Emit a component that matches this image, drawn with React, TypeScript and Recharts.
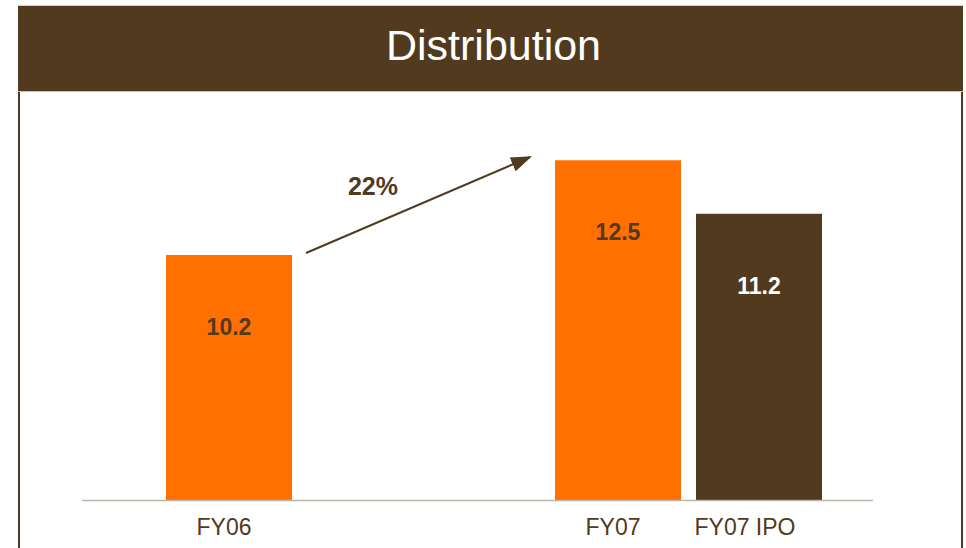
import { BarChart, Bar, XAxis, YAxis, LabelList } from "recharts";

const categories = ["FY06", "FY07"];
const reported = [10.2, 12.5];
const ipo = [null, 11.2];
const ipoLabel = "FY07 IPO";
const growthLabel = "22%";
const yDomain = [4.25, 13.72];

const BROWN = "#523a1e";
const ORANGE = "#ff7000";
const FONT = '"Liberation Sans", Arial, Helvetica, sans-serif';

const data = categories.map((name, i) => ({
  name,
  reported: reported[i],
  ipo: ipo[i],
}));

function box(p: any) {
  const vb = p.viewBox ?? {};
  return {
    x: p.x ?? vb.x,
    y: p.y ?? vb.y,
    width: p.width ?? vb.width,
    height: p.height ?? vb.height,
  };
}

function ValueLabel(p: any) {
  if (p.value == null) return null;
  const { x, y, width } = box(p);
  return (
    <text
      x={x + width / 2}
      y={y + 80}
      textAnchor="middle"
      fill={p.color}
      fontSize={23}
      fontWeight="bold"
      fontFamily={FONT}
    >
      {p.value}
    </text>
  );
}

function CategoryLabel(p: any) {
  if (p.value == null) return null;
  const { x, y, width, height } = box(p);
  return (
    <text
      x={x + width / 2 + (p.dx ?? 0)}
      y={y + height + 35}
      textAnchor="middle"
      fill={BROWN}
      fontSize={23}
      fontFamily={FONT}
    >
      {p.text ?? p.value}
    </text>
  );
}

export default function App() {
  return (
    <div
      style={{
        position: "absolute",
        left: 0,
        top: 0,
        width: 966,
        height: 548,
        background: "#fff",
        overflow: "hidden",
        fontFamily: FONT,
      }}
    >
      {/* slide frame */}
      <div
        style={{
          position: "absolute",
          left: 18,
          top: 5,
          width: 945,
          height: 600,
          borderLeft: `2px solid ${BROWN}`,
          borderRight: `2px solid ${BROWN}`,
          boxSizing: "border-box",
        }}
      />
      <div
        style={{
          position: "absolute",
          left: 18,
          top: 5,
          width: 945,
          height: 87,
          background: BROWN,
          borderTop: "1px solid #d8d2ca",
          borderBottom: "1px solid #c9c1b5",
          boxSizing: "border-box",
          color: "#fff",
          fontSize: 43,
          display: "flex",
          alignItems: "center",
          justifyContent: "center",
          paddingBottom: 6,
          paddingLeft: 6,
        }}
      >
        Distribution
      </div>

      <div style={{ position: "absolute", left: 0, top: 0 }}>
        <BarChart
          width={966}
          height={548}
          data={data}
          margin={{ top: 110, right: 83, bottom: 48, left: 82 }}
          barSize={126}
          barGap={15}
        >
          <XAxis
            dataKey="name"
            tick={false}
            tickLine={false}
            axisLine={false}
            height={0}
            padding={{ left: 23, right: 0 }}
          />
          <YAxis hide domain={yDomain} allowDataOverflow />
          <Bar dataKey="reported" fill={ORANGE} isAnimationActive={false}>
            <LabelList dataKey="reported" content={(p: any) => <ValueLabel {...p} color={BROWN} />} />
            <LabelList dataKey="name" content={(p: any) => <CategoryLabel {...p} dx={-5} />} />
          </Bar>
          <Bar dataKey="ipo" fill={BROWN} isAnimationActive={false}>
            <LabelList dataKey="ipo" content={(p: any) => <ValueLabel {...p} color="#fff" />} />
            <LabelList
              dataKey="ipo"
              content={(p: any) => <CategoryLabel {...p} text={ipoLabel} dx={-14} />}
            />
          </Bar>
        </BarChart>
      </div>

      {/* baseline + growth arrow annotation */}
      <svg
        width={966}
        height={548}
        style={{ position: "absolute", left: 0, top: 0, pointerEvents: "none" }}
      >
        <defs>
          <marker
            id="head"
            viewBox="0 0 10 10"
            refX="9"
            refY="5"
            markerWidth="21"
            markerHeight="15"
            markerUnits="userSpaceOnUse"
            orient="auto"
            preserveAspectRatio="none"
          >
            <path d="M0,0 L10,5 L0,10 z" fill={BROWN} />
          </marker>
        </defs>
        <line x1={82} y1={500.5} x2={873} y2={500.5} stroke="#bdb5aa" strokeWidth={1.5} />
        <line
          x1={306}
          y1={253}
          x2={530}
          y2={157}
          stroke={BROWN}
          strokeWidth={2}
          markerEnd="url(#head)"
        />
        <text
          x={373}
          y={195}
          textAnchor="middle"
          fill={BROWN}
          fontSize={25}
          fontWeight="bold"
          fontFamily={FONT}
        >
          {growthLabel}
        </text>
      </svg>
    </div>
  );
}
